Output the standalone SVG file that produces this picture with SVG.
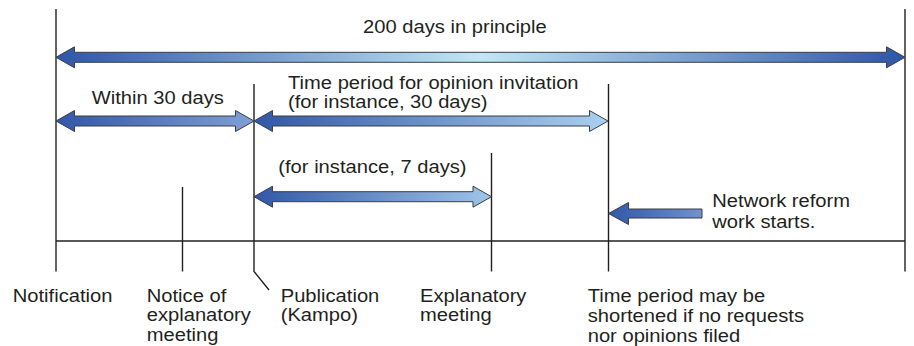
<svg xmlns="http://www.w3.org/2000/svg" width="914" height="346" viewBox="0 0 914 346">
  <style>
    .ln { stroke: #231f20; stroke-width: 1.4; fill: none; }
    .t { font-family: "Liberation Sans", Arial, sans-serif; font-size: 18.5px; fill: #231f20; }
    .ar { stroke: #3d3d45; stroke-width: 1; stroke-linejoin: miter; }
  </style>
  <defs>
    <linearGradient id="gBig" x1="0" y1="0" x2="1" y2="0">
      <stop offset="0" stop-color="#2f55a6"/>
      <stop offset="0.5" stop-color="#c2e6f5"/>
      <stop offset="1" stop-color="#2f55a6"/>
    </linearGradient>
    <linearGradient id="gWithin" x1="0" y1="0" x2="1" y2="0">
      <stop offset="0" stop-color="#3157a7"/>
      <stop offset="1" stop-color="#809fd6"/>
    </linearGradient>
    <linearGradient id="gPeriod" x1="0" y1="0" x2="1" y2="0">
      <stop offset="0" stop-color="#3157a7"/>
      <stop offset="1" stop-color="#a9d0ee"/>
    </linearGradient>
    <linearGradient id="g7" x1="0" y1="0" x2="1" y2="0">
      <stop offset="0" stop-color="#3157a7"/>
      <stop offset="1" stop-color="#9fc5ea"/>
    </linearGradient>
    <linearGradient id="gNet" x1="0" y1="0" x2="1" y2="0">
      <stop offset="0" stop-color="#3157a7"/>
      <stop offset="1" stop-color="#6f92d0"/>
    </linearGradient>
  </defs>

  <line id="timeline" class="ln" x1="56" y1="241" x2="905" y2="241"/>

  <g id="notification">
    <line class="ln" x1="56" y1="9" x2="56" y2="271.5"/>
    <text class="t" transform="translate(12.7,301.7) scale(1.09,1)">Notification</text>
  </g>
  <g id="notice">
    <line class="ln" x1="182.5" y1="187" x2="182.5" y2="271.5"/>
    <text class="t" transform="translate(146.7,302) scale(1.09,1)"><tspan x="0" y="0">Notice of</tspan><tspan x="0" y="19.5">explanatory</tspan><tspan x="0" y="39">meeting</tspan></text>
  </g>
  <g id="publication">
    <polyline class="ln" points="254,84 254,271.5 269,290"/>
    <text class="t" transform="translate(280.7,301.7) scale(1.09,1)"><tspan x="0" y="0">Publication</tspan><tspan x="0" y="19">(Kampo)</tspan></text>
  </g>
  <g id="meeting">
    <line class="ln" x1="491.5" y1="153" x2="491.5" y2="271.5"/>
    <text class="t" transform="translate(420,301.7) scale(1.09,1)"><tspan x="0" y="0">Explanatory</tspan><tspan x="0" y="19">meeting</tspan></text>
  </g>
  <g id="period-end">
    <line class="ln" x1="608.5" y1="84" x2="608.5" y2="271.5"/>
    <text class="t" transform="translate(587.7,301.7) scale(1.09,1)"><tspan x="0" y="0">Time period may be</tspan><tspan x="0" y="20">shortened if no requests</tspan><tspan x="0" y="40">nor opinions filed</tspan></text>
  </g>
  <g id="end">
    <line class="ln" x1="905" y1="9" x2="905" y2="271.5"/>
  </g>

  <g id="connectors">
    <polygon class="ar" fill="url(#gBig)" points="56,57.3 74.5,46.8 74.5,52.3 886.5,52.3 886.5,46.8 905,57.3 886.5,67.8 886.5,62.3 74.5,62.3 74.5,67.8"/>
    <text class="t" transform="translate(363,33) scale(1.09,1)">200 days in principle</text>

    <polygon class="ar" fill="url(#gWithin)" points="56,121 74.5,110.5 74.5,116 235.5,116 235.5,110.5 254,121 235.5,131.5 235.5,126 74.5,126 74.5,131.5"/>
    <text class="t" transform="translate(91.7,104) scale(1.09,1)">Within 30 days</text>

    <polygon class="ar" fill="url(#gPeriod)" points="254,121 272.5,110.5 272.5,116 589.5,116 589.5,110.5 608,121 589.5,131.5 589.5,126 272.5,126 272.5,131.5"/>
    <text class="t" transform="translate(288,89) scale(1.09,1)"><tspan x="0" y="0">Time period for opinion invitation</tspan><tspan x="0" y="19">(for instance, 30 days)</tspan></text>

    <polygon class="ar" fill="url(#g7)" points="254,196.7 272.5,186.2 272.5,191.7 473,191.7 473,186.2 491.5,196.7 473,207.2 473,201.7 272.5,201.7 272.5,207.2"/>
    <text class="t" transform="translate(278.3,173.3) scale(1.09,1)">(for instance, 7 days)</text>

    <polygon class="ar" fill="url(#gNet)" points="608.5,213.5 628.5,202.5 628.5,209 702,209 702,218 628.5,218 628.5,224.5"/>
    <text class="t" transform="translate(712.3,207.3) scale(1.09,1)"><tspan x="0" y="0">Network reform</tspan><tspan x="0" y="21">work starts.</tspan></text>
  </g>
</svg>
